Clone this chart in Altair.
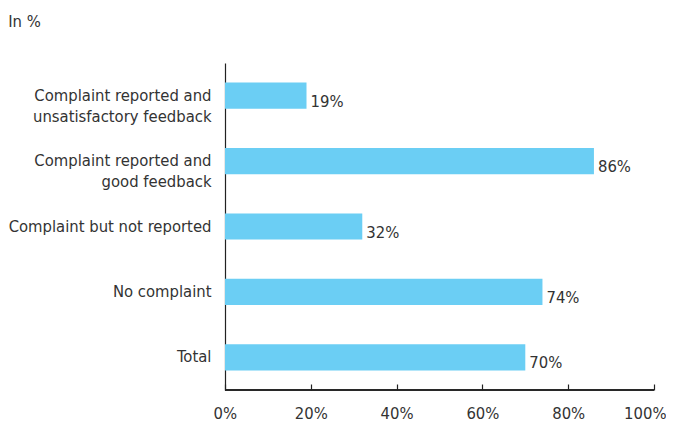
import altair as alt
import pandas as pd

categories = [
    "Complaint reported and|unsatisfactory feedback",
    "Complaint reported and|good feedback",
    "Complaint but not reported",
    "No complaint",
    "Total",
]
values = [19, 86, 32, 74, 70]
labels = ["19%", "86%", "32%", "74%", "70%"]

df = pd.DataFrame({"cat": categories, "val": values, "lab": labels})

FONT = "DejaVu Sans Condensed, Roboto, sans-serif"
FS = 16.5
TXT = "#333333"
W, H = 429, 327

y_enc = alt.Y(
    "cat:N",
    sort=categories,
    scale=alt.Scale(paddingInner=0.6, paddingOuter=0.3),
    axis=alt.Axis(
        title=None,
        ticks=False,
        labelExpr="split(datum.label, '|')",
        labelFontSize=FS,
        labelFont=FONT,
        labelColor=TXT,
        labelPadding=14,
        labelLineHeight=21,
        labelLimit=400,
        domainColor="#222222",
        domainWidth=1.2,
    ),
)

x_enc = alt.X(
    "val:Q",
    scale=alt.Scale(domain=[0, 100]),
    axis=alt.Axis(
        title=None,
        values=[0, 20, 40, 60, 80, 100],
        labelExpr="datum.value + '%'",
        labelFontSize=FS,
        labelFont=FONT,
        labelColor=TXT,
        labelPadding=15,
        labelFlush=True,
        labelFlushOffset=12,
        domain=False,
        ticks=True,
        tickSize=6,
        tickColor="#222222",
        tickWidth=1.2,
        offset=-6,
        grid=False,
    ),
)

bars = alt.Chart(df).mark_bar(color="#6BCEF4").encode(x=x_enc, y=y_enc)

text = alt.Chart(df).mark_text(
    align="left", baseline="middle", dx=4, dy=6, fontSize=FS, font=FONT, color=TXT
).encode(x="val:Q", y=alt.Y("cat:N", sort=categories), text="lab:N")

baseline = alt.Chart(df).mark_rule(color="#222222", strokeWidth=1.2).encode(
    x=alt.value(0), x2=alt.value(W), y=alt.value(H)
)

chart = (
    alt.layer(bars, text, baseline)
    .properties(
        width=W,
        height=H,
        background="white",
        padding={"left": 0, "right": 0, "top": 5, "bottom": 5},
        title=alt.TitleParams(
            "In %",
            anchor="start",
            frame="bounds",
            font=FONT,
            fontSize=FS,
            fontWeight="normal",
            color=TXT,
            offset=33,
        ),
    )
    .configure_view(strokeWidth=0)
)

chart.save("out.html", embed_options={"renderer": "svg", "actions": False})
